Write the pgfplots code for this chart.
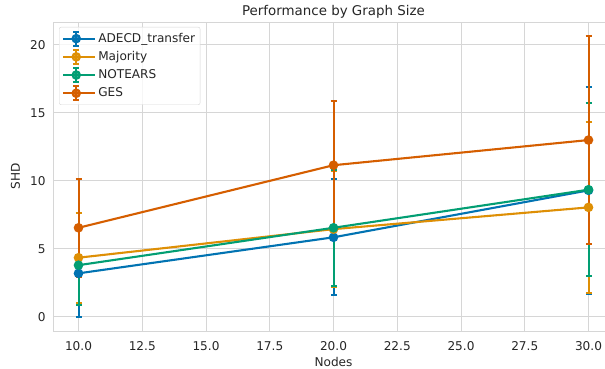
\documentclass[border=0pt]{standalone}
\usepackage{pgfplots}
\pgfplotsset{compat=1.18}
\usepackage{fontspec}
\setmainfont{DejaVu Sans}
\definecolor{cblue}{RGB}{1,115,178}
\definecolor{corange}{RGB}{222,143,5}
\definecolor{cgreen}{RGB}{2,158,115}
\definecolor{cverm}{RGB}{213,94,0}
\definecolor{gridc}{RGB}{214,214,214}
\definecolor{txt}{RGB}{38,38,38}
\begin{document}
\begin{tikzpicture}[x=1pt,y=1pt]
\path[use as bounding box] (0,0) rectangle (605,368);
\begin{axis}[
  at={(53pt,37pt)}, anchor=south west,
  scale only axis, width=561pt, height=309pt,
  xmin=9, xmax=31, ymin=-1.04, ymax=21.68,
  xtick={10,12.5,15,17.5,20,22.5,25,27.5,30},
  ytick={0,5,10,15,20},
  xticklabel style={/pgf/number format/fixed, /pgf/number format/fixed zerofill, /pgf/number format/precision=1, yshift=-7pt},
  /pgf/number format/assume math mode=true,
  tick label style={font=\fontsize{12.1}{14}\selectfont, text=txt},
  yticklabel style={xshift=-4pt},
  major tick length=0pt,
  grid=major,
  major grid style={gridc, line width=1pt},
  axis line style={gridc, line width=1pt},
  legend style={at={(0.0107,0.984)}, anchor=north west, draw=gridc, fill=white, fill opacity=0.8, text opacity=1,
    rounded corners=2pt, font=\fontsize{12.1}{14}\selectfont, text=txt, row sep=2.2pt, inner xsep=3pt, inner ysep=3.5pt},
  legend cell align=left,
  legend image code/.code={
    \path (0pt,0pt) -- (32pt,0pt);
    \draw[#1, mark=none] (0pt,0pt) -- (26pt,0pt);
    \draw[#1, mark=none, line width=2pt] (13pt,-7pt) -- (13pt,7pt) (10pt,-7pt) -- (16pt,-7pt) (10pt,7pt) -- (16pt,7pt);
    \path[#1, draw=none] plot coordinates {(13pt,0pt)};
  },
  every axis plot/.append style={line width=2.1pt, mark=*, mark size=3.7pt, mark options={solid}},
  every error bar/.style={line width=2pt},
  error bars/error mark options={rotate=90, mark size=3pt, line width=2pt},
]
\addplot[color=cblue, error bars/.cd, y dir=both, y explicit, error bar style={line width=2pt}]
  coordinates {(10,3.2) +- (0,3.2) (20,5.85) +- (0,4.25) (30,9.3) +- (0,7.6)};
\addlegendentry{ADECD\_transfer}
\addplot[color=corange, error bars/.cd, y dir=both, y explicit, error bar style={line width=2pt}]
  coordinates {(10,4.35) +- (0,3.3) (20,6.45) +- (0,4.25) (30,8.05) +- (0,6.3)};
\addlegendentry{Majority}
\addplot[color=cgreen, error bars/.cd, y dir=both, y explicit, error bar style={line width=2pt}]
  coordinates {(10,3.8) +- (0,2.9) (20,6.55) +- (0,4.25) (30,9.35) +- (0,6.35)};
\addlegendentry{NOTEARS}
\addplot[color=cverm, error bars/.cd, y dir=both, y explicit, error bar style={line width=2pt}]
  coordinates {(10,6.55) +- (0,3.6) (20,11.15) +- (0,4.75) (30,13.0) +- (0,7.65)};
\addlegendentry{GES}
\end{axis}
\node[text=txt, font=\fontsize{13.4}{15}\selectfont] at (333.5,356.5) {Performance by Graph Size};
\node[text=txt, font=\fontsize{12.1}{14}\selectfont] at (333.5,6) {Nodes};
\node[text=txt, font=\fontsize{12.1}{14}\selectfont, rotate=90] at (15.5,192) {SHD};
\end{tikzpicture}
\end{document}
